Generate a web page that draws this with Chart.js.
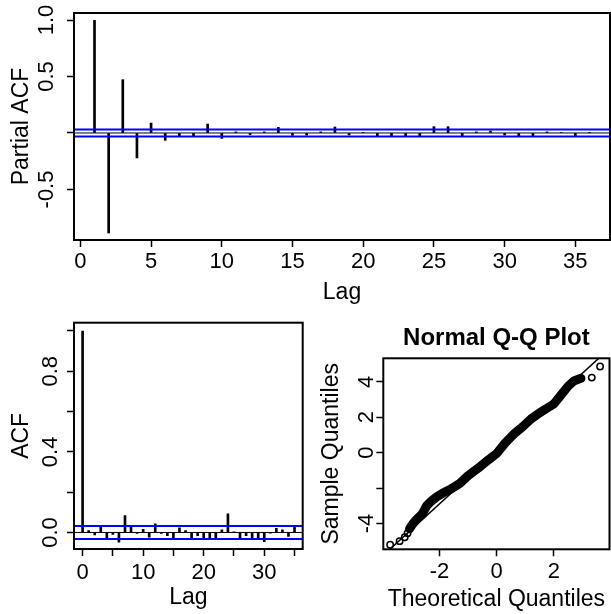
<!doctype html>
<html lang="en">
<head>
  <meta charset="utf-8">
  <meta name="viewport" content="width=device-width, initial-scale=1">
  <title>Residual diagnostics</title>
  <script src="https://cdn.jsdelivr.net/npm/chart.js"></script>
  <style>
    html, body { margin: 0; padding: 0; overflow: hidden; background: #fff; width: 611px; height: 614px; }
    canvas { position: absolute; }
  </style>
</head>
<body>

<canvas id="pacfChart" width="611" height="310" style="left:0; top:0;"></canvas>
<canvas id="acfChart" width="310" height="314" style="left:0; top:300px;"></canvas>
<canvas id="qqChart" width="305" height="314" style="left:310px; top:300px;"></canvas>

<script>
  // ---- data ----
  const pacfLags = [1, 2, 3, 4, 5, 6, 7, 8, 9, 10, 11, 12, 13, 14, 15, 16, 17, 18,
                    19, 20, 21, 22, 23, 24, 25, 26, 27, 28, 29, 30, 31, 32, 33, 34, 35, 36];
  const pacfValues = [0.997, -0.885, 0.472, -0.221, 0.088, -0.065, -0.024, -0.024, 0.079, -0.048,
                      0.01, -0.014, 0.01, 0.05, -0.02, -0.019, 0.01, 0.053, -0.017, 0.003,
                      -0.03, -0.03, -0.03, -0.03, 0.056, 0.056, -0.03, 0.01, 0.018, -0.018,
                      -0.03, -0.03, 0.01, 0.005, -0.03, 0.003];
  const pacfBound = 0.031;

  const acfLags = [0, 1, 2, 3, 4, 5, 6, 7, 8, 9, 10, 11, 12, 13, 14, 15, 16, 17,
                   18, 19, 20, 21, 22, 23, 24, 25, 26, 27, 28, 29, 30, 31, 32, 33, 34, 35];
  const acfValues = [1.0, 0.01, -0.012, 0.026, -0.03, -0.01, -0.048, 0.084, 0.026, -0.005,
                     0.016, -0.023, 0.043, -0.005, -0.016, -0.03, 0.023, 0.01, -0.03, -0.016,
                     -0.03, -0.03, -0.03, 0.013, 0.093, 0.003, -0.03, -0.016, -0.026, -0.026,
                     -0.046, -0.003, 0.02, 0.013, -0.02, 0.026];
  const acfBound = 0.032;

  // Q-Q: the dense run of points, then the loose points at both tails
  const qqTheo   = [-3.05, -2.95, -2.85, -2.6, -2.45, -2.3, -2.1, -1.9, -1.6, -1.3, -1.0, -0.65, -0.3,
                    0.0, 0.3, 0.6, 0.9, 1.2, 1.5, 1.8, 2.0, 2.25, 2.5, 2.7, 2.95];
  const qqSample = [-4.3, -4.05, -3.85, -3.45, -3.0, -2.75, -2.5, -2.3, -2.05, -1.75, -1.3, -0.88, -0.42,
                    -0.05, 0.55, 1.05, 1.45, 1.9, 2.25, 2.55, 2.75, 3.25, 3.75, 4.05, 4.2];
  const qqTailTheo   = [-3.73, -3.4, -3.22, -3.12, 3.33, 3.62];
  const qqTailSample = [-5.2, -5.0, -4.78, -4.55, 4.24, 4.87];
  const qqLineTheo   = [-4, 4];
  const qqLineSample = [-5.84, 5.96];

  // tick positions and labels (R drops labels that would overlap)
  const pacfXTicks = [0, 5, 10, 15, 20, 25, 30, 35];
  const pacfXLabels = ['0', '5', '10', '15', '20', '25', '30', '35'];
  const pacfYTicks = [-0.5, 0, 0.5, 1];
  const pacfYLabels = ['-0.5', '', '0.5', '1.0'];
  const acfXTicks = [0, 5, 10, 15, 20, 25, 30, 35];
  const acfXLabels = ['0', '', '10', '', '20', '', '30', ''];
  const acfYTicks = [0, 0.2, 0.4, 0.6, 0.8, 1];
  const acfYLabels = ['0.0', '', '0.4', '', '0.8', ''];
  const qqXTicks = [-2, 0, 2];
  const qqXLabels = ['-2', '0', '2'];
  const qqYTicks = [-4, -2, 0, 2, 4];
  const qqYLabels = ['-4', '', '0', '2', '4'];

  Chart.defaults.font.family = "'Liberation Sans', Arial, sans-serif";
  Chart.defaults.color = '#000';
  Chart.defaults.animation = false;

  // R style box round the plot region
  const boxPlugin = {
    id: 'rbox',
    afterDatasetsDraw(chart) {
      const a = chart.chartArea;
      const ctx = chart.ctx;
      ctx.save();
      ctx.lineWidth = 2;
      ctx.strokeStyle = '#000';
      ctx.strokeRect(a.left, a.top, a.right - a.left, a.bottom - a.top);
      ctx.restore();
    }
  };

  function makeScale(o) {
    const vertical = o.position === 'left';
    return {
      type: 'linear',
      position: o.position,
      min: o.min,
      max: o.max,
      offset: false,
      afterBuildTicks: function (s) { s.ticks = o.ticks.map(v => ({value: v})); },
      afterFit: function (s) { if (vertical) s.width = o.size; else s.height = o.size; },
      ticks: {
        autoSkip: false,
        color: '#000',
        font: {size: 22, lineHeight: 1},
        padding: o.pad,
        minRotation: vertical ? 90 : 0,
        maxRotation: vertical ? 90 : 0,
        crossAlign: vertical ? 'center' : 'near',
        callback: function (v, i) { return o.labels[i]; }
      },
      grid: {
        display: true, drawOnChartArea: false, drawTicks: true, offset: false,
        tickLength: 7, tickColor: '#000', tickWidth: 1.5
      },
      border: {display: false},
      title: {
        display: true, text: o.title, color: '#000',
        font: {size: 23}, padding: o.titlePad
      }
    };
  }

  function hLine(xmin, xmax, y, color, width) {
    return {
      type: 'line',
      data: [{x: xmin, y: y}, {x: xmax, y: y}],
      borderColor: color, borderWidth: width,
      pointRadius: 0, fill: false
    };
  }

  function spikes(lags, values) {
    return {
      type: 'bar',
      data: lags.map((l, i) => ({x: l, y: values[i]})),
      backgroundColor: '#000',
      borderWidth: 0,
      barThickness: 2
    };
  }

  // ---- top: partial ACF ----
  const pacfX = {min: -0.45, max: 37.45};
  new Chart(document.getElementById('pacfChart'), {
    type: 'bar',
    data: {
      datasets: [
        hLine(pacfX.min, pacfX.max, pacfBound, '#0000ff', 2),
        hLine(pacfX.min, pacfX.max, -pacfBound, '#0000ff', 2),
        hLine(pacfX.min, pacfX.max, 0, '#000', 1),
        spikes(pacfLags, pacfValues)
      ]
    },
    options: {
      responsive: false,
      layout: {padding: {top: 13, right: 1, left: 0, bottom: 0}},
      plugins: {legend: {display: false}, tooltip: {enabled: false}},
      scales: {
        x: makeScale({position: 'bottom', min: pacfX.min, max: pacfX.max, ticks: pacfXTicks,
                      labels: pacfXLabels, size: 70, pad: 4, title: 'Lag', titlePad: {bottom: 4}}),
        y: makeScale({position: 'left', min: -0.947, max: 1.062, ticks: pacfYTicks,
                      labels: pacfYLabels, size: 74, pad: 1, title: 'Partial ACF', titlePad: {top: 8}})
      }
    },
    plugins: [boxPlugin]
  });

  // ---- bottom left: ACF ----
  const acfX = {min: -1.42, max: 36.35};
  new Chart(document.getElementById('acfChart'), {
    type: 'bar',
    data: {
      datasets: [
        hLine(acfX.min, acfX.max, acfBound, '#0000ff', 2),
        hLine(acfX.min, acfX.max, -acfBound, '#0000ff', 2),
        hLine(acfX.min, acfX.max, 0, '#000', 1),
        spikes(acfLags, acfValues)
      ]
    },
    options: {
      responsive: false,
      layout: {padding: {top: 22.7, right: 7.3, left: 0, bottom: 0}},
      plugins: {legend: {display: false}, tooltip: {enabled: false}},
      scales: {
        x: makeScale({position: 'bottom', min: acfX.min, max: acfX.max, ticks: acfXTicks,
                      labels: acfXLabels, size: 65, pad: 6, title: 'Lag', titlePad: {bottom: 3}}),
        y: makeScale({position: 'left', min: -0.082, max: 1.041, ticks: acfYTicks,
                      labels: acfYLabels, size: 74, pad: 1, title: 'ACF', titlePad: {top: 8}})
      }
    },
    plugins: [boxPlugin]
  });

  // ---- bottom right: normal Q-Q ----
  new Chart(document.getElementById('qqChart'), {
    type: 'scatter',
    data: {
      datasets: [
        {
          data: qqLineTheo.map((x, i) => ({x: x, y: qqLineSample[i]})),
          showLine: true, borderColor: '#000', borderWidth: 1.5, pointRadius: 0
        },
        {
          data: qqTheo.map((x, i) => ({x: x, y: qqSample[i]})),
          showLine: true, borderColor: '#000', borderWidth: 9, pointRadius: 0,
          borderCapStyle: 'round', borderJoinStyle: 'round'
        },
        {
          data: qqTailTheo.map((x, i) => ({x: x, y: qqTailSample[i]})),
          showLine: false, pointRadius: 3.2, pointBorderWidth: 1.5,
          pointBorderColor: '#000', pointBackgroundColor: 'rgba(0,0,0,0)'
        }
      ]
    },
    options: {
      responsive: false,
      layout: {padding: {top: 0, right: 2, left: 0, bottom: 0}},
      plugins: {
        legend: {display: false},
        tooltip: {enabled: false},
        title: {
          display: true, text: 'Normal Q-Q Plot', color: '#000', fullSize: false,
          font: {size: 24, weight: 'bold'}, padding: {top: 23.6, bottom: 5.9}
        }
      },
      scales: {
        x: makeScale({position: 'bottom', min: -3.97, max: 3.95, ticks: qqXTicks,
                      labels: qqXLabels, size: 64.7, pad: 5, title: 'Theoretical Quantiles', titlePad: {bottom: 1}}),
        y: makeScale({position: 'left', min: -5.46, max: 5.33, ticks: qqYTicks,
                      labels: qqYLabels, size: 73.3, pad: 0, title: 'Sample Quantiles', titlePad: {top: 8}})
      }
    },
    plugins: [boxPlugin]
  });
</script>
</body>
</html>
